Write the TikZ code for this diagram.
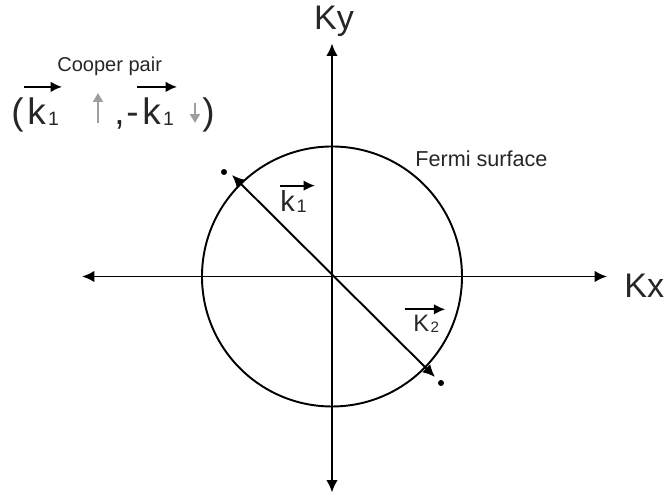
\documentclass[tikz,border=0pt]{standalone}
\usepackage{fontspec}
\setmainfont{Liberation Sans}
\usetikzlibrary{arrows.meta}
\newcommand{\idx}[2][11pt]{\kern0.06em\raisebox{-0.5pt}{\fontsize{#1}{#1}\selectfont #2}}
\tikzset{
  lbl/.style={inner sep=0pt,text=black!85},
  tuple/.style={lbl,anchor=base west,font=\fontsize{21pt}{23pt}\selectfont},
  vecarrow/.style={line width=1.1pt,-{Latex[length=6.5pt,width=6pt]}},
  spin/.style={black!38,line width=1.5pt,-{Triangle[length=5pt,width=5.5pt]}},
}
\begin{document}
\begin{tikzpicture}[line join=round,>={Latex[length=7pt,width=6.5pt]}]
  \useasboundingbox (-6.64,-4.41) rectangle (6.66,5.53);
  \coordinate (O) at (0,0);
  \coordinate (xl) at (-5.0,0);
  \coordinate (xr) at (5.5,0);
  \coordinate (yb) at (0,-4.32);
  \coordinate (yt) at (0,4.66);
  \coordinate (pa) at (-2.0,2.03);
  \coordinate (pb) at (2.06,-2.01);
  \coordinate (da) at (-2.16,2.09);
  \coordinate (db) at (2.18,-2.13);
  % Fermi circle and axes
  \draw[line width=1.1pt] (O) circle (2.6);
  \draw[line width=1.1pt,<->] (xl) -- (xr);
  \draw[line width=1.1pt,<->] (yb) -- (yt);
  \draw[line width=1.1pt,<->] (pa) -- (pb);
  \fill (da) circle (0.06);
  \fill (db) circle (0.06);
  \node[lbl,anchor=base west,font=\fontsize{19.4pt}{21pt}\selectfont] (kx) at (5.84,-0.43) {Kx};
  \node[lbl,anchor=base,font=\fontsize{19.4pt}{21pt}\selectfont] (ky) at (0.04,4.93) {Ky};
  \node[lbl,anchor=base west,font=\fontsize{12.3pt}{14pt}\selectfont] (fermi) at (1.66,2.19) {Fermi surface};
  % momentum labels
  \node[lbl,anchor=base west,font=\fontsize{16.5pt}{18pt}\selectfont] (kone) at (-1.04,1.29) {k\idx[10.3pt]{1}};
  \draw[vecarrow] ([yshift=0.1cm]kone.north west) -- ([shift={(0.16,0.1)}]kone.north east);
  \node[lbl,anchor=base west,font=\fontsize{13.5pt}{15pt}\selectfont] (ktwo) at (1.62,-1.11) {K\idx[8.6pt]{2}};
  \draw[vecarrow] ([shift={(-0.16,0.12)}]ktwo.north west) -- ([shift={(0.12,0.12)}]ktwo.north east);
  % pair
  \node[lbl,anchor=base west,font=\fontsize{11.4pt}{13pt}\selectfont] (cooper) at (-5.5,4.09) {Cooper pair};
  \node[tuple] (open) at (-6.42,3.03) {(};
  \node[tuple] (ka) at (-6.1,3.03) {k\idx{1}};
  \node[tuple] (comma) at (-4.36,3.03) {,};
  \node[tuple] (minus) at (-4.12,3.03) {-};
  \node[tuple] (kb) at (-3.8,3.03) {k\idx{1}};
  \node[tuple] (close) at (-2.6,3.03) {)};
  \draw[vecarrow] ([shift={(-0.06,0.22)}]ka.north west) -- ([shift={(0.06,0.22)}]ka.north east);
  \draw[vecarrow] ([shift={(-0.1,0.22)}]kb.north west) -- ([shift={(0.06,0.22)}]kb.north east);
  \draw[spin] (-4.68,3.07) -- (-4.68,3.67);
  \draw[spin] (-2.74,3.47) -- (-2.74,3.07);
\end{tikzpicture}
\end{document}
